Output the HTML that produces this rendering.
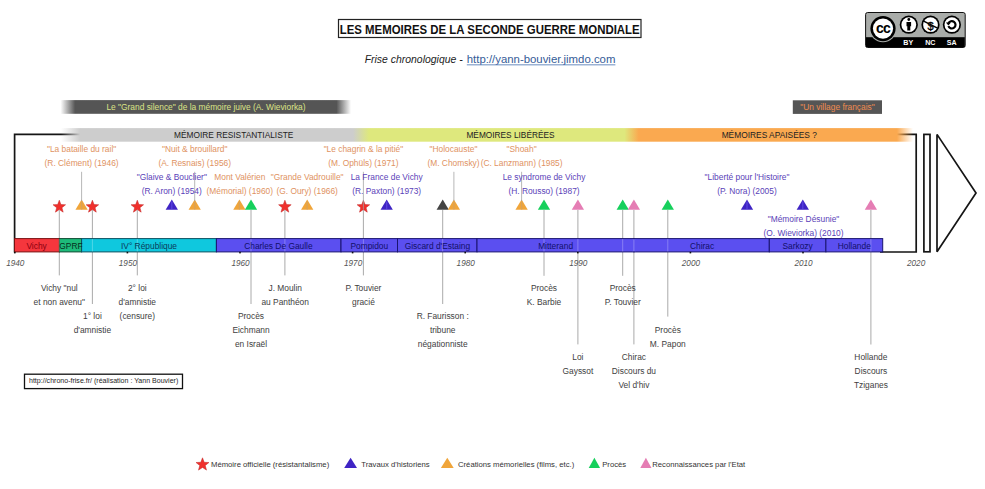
<!DOCTYPE html>
<html><head><meta charset="utf-8"><title>Les mémoires de la seconde guerre mondiale</title>
<style>html,body{margin:0;padding:0;background:#fff;width:985px;height:489px;overflow:hidden;position:relative}</style>
</head><body>
<svg width="985" height="489" viewBox="0 0 985 489" style="position:absolute;left:0;top:0;font-family:'Liberation Sans', sans-serif">

<defs>
 <linearGradient id="gs" x1="60.6" x2="351" y1="0" y2="0" gradientUnits="userSpaceOnUse">
  <stop offset="0" stop-color="#555" stop-opacity="0"/>
  <stop offset="0.05" stop-color="#555" stop-opacity="1"/>
  <stop offset="0.95" stop-color="#555" stop-opacity="1"/>
  <stop offset="1" stop-color="#555" stop-opacity="0"/>
 </linearGradient>
 <linearGradient id="gb" x1="61" x2="913" y1="0" y2="0" gradientUnits="userSpaceOnUse">
  <stop offset="0" stop-color="#cdcdcd" stop-opacity="0"/>
  <stop offset="0.0223" stop-color="#cdcdcd" stop-opacity="1"/>
  <stop offset="0.3427" stop-color="#cdcdcd" stop-opacity="1"/>
  <stop offset="0.3615" stop-color="#dee87d" stop-opacity="1"/>
  <stop offset="0.6614" stop-color="#dee87d" stop-opacity="1"/>
  <stop offset="0.6781" stop-color="#faa950" stop-opacity="1"/>
  <stop offset="0.9812" stop-color="#faa950" stop-opacity="1"/>
  <stop offset="1" stop-color="#faa950" stop-opacity="0"/>
 </linearGradient>
</defs>
<rect x="338.5" y="19.5" width="302.5" height="18" fill="#fff" stroke="#222" stroke-width="1.2"/>
<text x="489.7" y="33.6" fill="#111" font-size="12.2" font-weight="bold" text-anchor="middle" textLength="300" lengthAdjust="spacingAndGlyphs">LES MEMOIRES DE LA SECONDE GUERRE MONDIALE</text>
<text x="364.7" y="63.4" fill="#222" font-size="10.6" font-style="italic" textLength="98" lengthAdjust="spacingAndGlyphs">Frise chronologique -</text>
<text x="466.8" y="63.2" fill="#355c98" font-size="10.6" textLength="148.6" lengthAdjust="spacingAndGlyphs">http://yann-bouvier.jimdo.com</text>
<rect x="466.8" y="64.4" width="148.6" height="0.9" fill="#5a80b8"/>
<rect x="60.6" y="100.1" width="290.4" height="13.7" fill="url(#gs)"/>
<text x="206" y="110" fill="#dbe486" font-size="8.4" text-anchor="middle" >Le "Grand silence" de la mémoire juive (A. Wieviorka)</text>
<rect x="792.8" y="100.3" width="89.2" height="13.6" fill="#555"/>
<text x="837.5" y="110.2" fill="#f08c50" font-size="8.4" text-anchor="middle" >"Un village français"</text>
<path d="M14.6 252.6 V134.4 H916.2 V252 H880" fill="none" stroke="#151515" stroke-width="1.7"/>
<rect x="923.9" y="134.4" width="6.1" height="117.4" fill="none" stroke="#151515" stroke-width="1.7"/>
<path d="M937 134.4 L976 193 L937 251.7 Z" fill="none" stroke="#151515" stroke-width="1.7" stroke-miterlimit="2"/>
<rect x="61" y="128.1" width="852" height="13.6" fill="url(#gb)"/>
<text x="233.7" y="137.6" fill="#222" font-size="8.8" text-anchor="middle" textLength="119.4" lengthAdjust="spacingAndGlyphs">MÉMOIRE RESISTANTIALISTE</text>
<text x="510.5" y="137.6" fill="#222" font-size="8.8" text-anchor="middle" textLength="88.1" lengthAdjust="spacingAndGlyphs">MÉMOIRES LIBÉRÉES</text>
<text x="769.3" y="137.6" fill="#222" font-size="8.8" text-anchor="middle" textLength="95.3" lengthAdjust="spacingAndGlyphs">MÉMOIRES APAISÉES ?</text>
<polygon points="59.30,200.20 60.93,204.56 65.58,204.76 61.94,207.66 63.18,212.14 59.30,209.57 55.42,212.14 56.66,207.66 53.02,204.76 57.67,204.56" fill="#f0302c" stroke="#c02424" stroke-width="0.5"/>
<polygon points="81.6,199.5 87.75,209.7 75.45,209.7" fill="#f0a53a"/>
<line x1="81.6" y1="201.5" x2="81.6" y2="209.7" stroke="#c8a070" stroke-width="1.2" stroke-opacity="0.6"/>
<polygon points="92.40,200.20 94.03,204.56 98.68,204.76 95.04,207.66 96.28,212.14 92.40,209.57 88.52,212.14 89.76,207.66 86.12,204.76 90.77,204.56" fill="#f0302c" stroke="#c02424" stroke-width="0.5"/>
<polygon points="137.30,200.20 138.93,204.56 143.58,204.76 139.94,207.66 141.18,212.14 137.30,209.57 133.42,212.14 134.66,207.66 131.02,204.76 135.67,204.56" fill="#f0302c" stroke="#c02424" stroke-width="0.5"/>
<polygon points="171.8,199.5 177.95,209.7 165.65,209.7" fill="#3f24c4"/>
<line x1="171.8" y1="201.5" x2="171.8" y2="209.7" stroke="#6a58f0" stroke-width="1.2" stroke-opacity="0.6"/>
<polygon points="194.7,199.5 200.85,209.7 188.55,209.7" fill="#f0a53a"/>
<line x1="194.7" y1="201.5" x2="194.7" y2="209.7" stroke="#c8a070" stroke-width="1.2" stroke-opacity="0.6"/>
<polygon points="239.4,199.5 245.55,209.7 233.25,209.7" fill="#f0a53a"/>
<line x1="239.4" y1="201.5" x2="239.4" y2="209.7" stroke="#c8a070" stroke-width="1.2" stroke-opacity="0.6"/>
<polygon points="251,199.5 257.15,209.7 244.85,209.7" fill="#16d05c"/>
<polygon points="284.90,200.20 286.53,204.56 291.18,204.76 287.54,207.66 288.78,212.14 284.90,209.57 281.02,212.14 282.26,207.66 278.62,204.76 283.27,204.56" fill="#f0302c" stroke="#c02424" stroke-width="0.5"/>
<polygon points="307.2,199.5 313.35,209.7 301.05,209.7" fill="#f0a53a"/>
<line x1="307.2" y1="201.5" x2="307.2" y2="209.7" stroke="#c8a070" stroke-width="1.2" stroke-opacity="0.6"/>
<polygon points="363.40,200.20 365.03,204.56 369.68,204.76 366.04,207.66 367.28,212.14 363.40,209.57 359.52,212.14 360.76,207.66 357.12,204.76 361.77,204.56" fill="#f0302c" stroke="#c02424" stroke-width="0.5"/>
<polygon points="386.7,199.5 392.85,209.7 380.55,209.7" fill="#3f24c4"/>
<line x1="386.7" y1="201.5" x2="386.7" y2="209.7" stroke="#6a58f0" stroke-width="1.2" stroke-opacity="0.6"/>
<polygon points="442.7,199.5 448.85,209.7 436.55,209.7" fill="#444444"/>
<polygon points="453.9,199.5 460.05,209.7 447.75,209.7" fill="#f0a53a"/>
<line x1="453.9" y1="201.5" x2="453.9" y2="209.7" stroke="#c8a070" stroke-width="1.2" stroke-opacity="0.6"/>
<polygon points="521.6,199.5 527.75,209.7 515.45,209.7" fill="#f0a53a"/>
<line x1="521.6" y1="201.5" x2="521.6" y2="209.7" stroke="#c8a070" stroke-width="1.2" stroke-opacity="0.6"/>
<polygon points="544,199.5 550.15,209.7 537.85,209.7" fill="#16d05c"/>
<polygon points="577.9,199.5 584.05,209.7 571.75,209.7" fill="#e57db4"/>
<polygon points="622.7,199.5 628.85,209.7 616.55,209.7" fill="#16d05c"/>
<polygon points="633.9,199.5 640.05,209.7 627.75,209.7" fill="#e57db4"/>
<polygon points="667.8,199.5 673.95,209.7 661.65,209.7" fill="#16d05c"/>
<polygon points="747,199.5 753.15,209.7 740.85,209.7" fill="#3f24c4"/>
<line x1="747" y1="201.5" x2="747" y2="209.7" stroke="#6a58f0" stroke-width="1.2" stroke-opacity="0.6"/>
<polygon points="802.8,199.5 808.95,209.7 796.65,209.7" fill="#3f24c4"/>
<line x1="802.8" y1="201.5" x2="802.8" y2="209.7" stroke="#6a58f0" stroke-width="1.2" stroke-opacity="0.6"/>
<polygon points="870.9,199.5 877.05,209.7 864.75,209.7" fill="#e57db4"/>
<line x1="59.3" y1="210" x2="59.3" y2="275.4" stroke="#a0a0a0" stroke-width="0.9"/>
<line x1="92.4" y1="210" x2="92.4" y2="304" stroke="#a0a0a0" stroke-width="0.9"/>
<line x1="137.3" y1="210" x2="137.3" y2="275.4" stroke="#a0a0a0" stroke-width="0.9"/>
<line x1="251" y1="210" x2="251" y2="304" stroke="#a0a0a0" stroke-width="0.9"/>
<line x1="284.9" y1="210" x2="284.9" y2="275.4" stroke="#a0a0a0" stroke-width="0.9"/>
<line x1="363.4" y1="210" x2="363.4" y2="275.4" stroke="#a0a0a0" stroke-width="0.9"/>
<line x1="442.7" y1="210" x2="442.7" y2="304" stroke="#a0a0a0" stroke-width="0.9"/>
<line x1="544" y1="210" x2="544" y2="275.8" stroke="#a0a0a0" stroke-width="0.9"/>
<line x1="577.9" y1="210" x2="577.9" y2="344.4" stroke="#a0a0a0" stroke-width="0.9"/>
<line x1="622.7" y1="210" x2="622.7" y2="275.8" stroke="#a0a0a0" stroke-width="0.9"/>
<line x1="633.9" y1="210" x2="633.9" y2="344.4" stroke="#a0a0a0" stroke-width="0.9"/>
<line x1="667.8" y1="210" x2="667.8" y2="316.6" stroke="#a0a0a0" stroke-width="0.9"/>
<line x1="870.9" y1="210" x2="870.9" y2="344.5" stroke="#a0a0a0" stroke-width="0.9"/>
<line x1="81.6" y1="171.8" x2="81.6" y2="201" stroke="#a0a0a0" stroke-width="0.9" stroke-opacity="0.85"/>
<line x1="194.7" y1="171.8" x2="194.7" y2="201" stroke="#a0a0a0" stroke-width="0.9" stroke-opacity="0.85"/>
<line x1="363.4" y1="171.8" x2="363.4" y2="209.5" stroke="#a0a0a0" stroke-width="0.9" stroke-opacity="0.85"/>
<line x1="453.9" y1="171.8" x2="453.9" y2="201" stroke="#a0a0a0" stroke-width="0.9" stroke-opacity="0.85"/>
<line x1="521.6" y1="171.8" x2="521.6" y2="201" stroke="#a0a0a0" stroke-width="0.9" stroke-opacity="0.85"/>
<rect x="14.5" y="238.6" width="44.90" height="13.3" fill="#f5363d" stroke="#7a1010" stroke-width="1"/>
<rect x="59.4" y="238.6" width="22.20" height="13.3" fill="#1dbb7a" stroke="#0b4a30" stroke-width="1"/>
<rect x="81.6" y="238.6" width="134.80" height="13.3" fill="#0fc8de" stroke="#0a5060" stroke-width="1"/>
<rect x="216.4" y="238.6" width="124.60" height="13.3" fill="#5b4ff0" stroke="#1a1470" stroke-width="1"/>
<rect x="341" y="238.6" width="56.50" height="13.3" fill="#5b4ff0" stroke="#1a1470" stroke-width="1"/>
<rect x="397.5" y="238.6" width="79.50" height="13.3" fill="#5b4ff0" stroke="#1a1470" stroke-width="1"/>
<rect x="477" y="238.6" width="157.00" height="13.3" fill="#5b4ff0" stroke="#1a1470" stroke-width="1"/>
<rect x="634" y="238.6" width="135.30" height="13.3" fill="#5b4ff0" stroke="#1a1470" stroke-width="1"/>
<rect x="769.3" y="238.6" width="56.60" height="13.3" fill="#5b4ff0" stroke="#1a1470" stroke-width="1"/>
<rect x="825.9" y="238.6" width="56.80" height="13.3" fill="#5b4ff0" stroke="#1a1470" stroke-width="1"/>
<rect x="632" y="239.3" width="4" height="11.9" fill="#5b4ff0"/>
<line x1="59.3" y1="239" x2="59.3" y2="251.5" stroke="#ffffff" stroke-width="0.9" stroke-opacity="0.3"/>
<line x1="92.4" y1="239" x2="92.4" y2="251.5" stroke="#ffffff" stroke-width="0.9" stroke-opacity="0.3"/>
<line x1="137.3" y1="239" x2="137.3" y2="251.5" stroke="#ffffff" stroke-width="0.9" stroke-opacity="0.3"/>
<line x1="251" y1="239" x2="251" y2="251.5" stroke="#ffffff" stroke-width="0.9" stroke-opacity="0.3"/>
<line x1="284.9" y1="239" x2="284.9" y2="251.5" stroke="#ffffff" stroke-width="0.9" stroke-opacity="0.3"/>
<line x1="363.4" y1="239" x2="363.4" y2="251.5" stroke="#ffffff" stroke-width="0.9" stroke-opacity="0.3"/>
<line x1="442.7" y1="239" x2="442.7" y2="251.5" stroke="#ffffff" stroke-width="0.9" stroke-opacity="0.3"/>
<line x1="544" y1="239" x2="544" y2="251.5" stroke="#ffffff" stroke-width="0.9" stroke-opacity="0.3"/>
<line x1="577.9" y1="239" x2="577.9" y2="251.5" stroke="#ffffff" stroke-width="0.9" stroke-opacity="0.3"/>
<line x1="622.7" y1="239" x2="622.7" y2="251.5" stroke="#ffffff" stroke-width="0.9" stroke-opacity="0.3"/>
<line x1="633.9" y1="239" x2="633.9" y2="251.5" stroke="#ffffff" stroke-width="0.9" stroke-opacity="0.3"/>
<line x1="667.8" y1="239" x2="667.8" y2="251.5" stroke="#ffffff" stroke-width="0.9" stroke-opacity="0.3"/>
<line x1="870.9" y1="239" x2="870.9" y2="251.5" stroke="#ffffff" stroke-width="0.9" stroke-opacity="0.3"/>
<text x="36.6" y="248.8" fill="#8a0010" font-size="8.4" text-anchor="middle" >Vichy</text>
<text x="71" y="248.8" fill="#06301c" font-size="8.4" text-anchor="middle" >GPRF</text>
<text x="149" y="248.8" fill="#0a3c5a" font-size="8.4" text-anchor="middle" >IV° République</text>
<text x="278.4" y="248.8" fill="#12106a" font-size="8.4" text-anchor="middle" >Charles De Gaulle</text>
<text x="369.3" y="248.8" fill="#12106a" font-size="8.4" text-anchor="middle" >Pompidou</text>
<text x="437.4" y="248.8" fill="#12106a" font-size="8.4" text-anchor="middle" >Giscard d'Estaing</text>
<text x="555.6" y="248.8" fill="#12106a" font-size="8.4" text-anchor="middle" >Mitterand</text>
<text x="702.1" y="248.8" fill="#12106a" font-size="8.4" text-anchor="middle" >Chirac</text>
<text x="797.6" y="248.8" fill="#12106a" font-size="8.4" text-anchor="middle" >Sarkozy</text>
<text x="854.3" y="248.8" fill="#12106a" font-size="8.4" text-anchor="middle" >Hollande</text>
<rect x="14.00" y="251.8" width="1.6" height="1.6" fill="#111"/>
<text x="15.3" y="265.7" fill="#555" font-size="8.2" text-anchor="middle" font-style="italic">1940</text>
<rect x="126.60" y="251.8" width="1.6" height="1.6" fill="#111"/>
<text x="127.9" y="265.7" fill="#555" font-size="8.2" text-anchor="middle" font-style="italic">1950</text>
<rect x="239.20" y="251.8" width="1.6" height="1.6" fill="#111"/>
<text x="240.5" y="265.7" fill="#555" font-size="8.2" text-anchor="middle" font-style="italic">1960</text>
<rect x="351.80" y="251.8" width="1.6" height="1.6" fill="#111"/>
<text x="353.1" y="265.7" fill="#555" font-size="8.2" text-anchor="middle" font-style="italic">1970</text>
<rect x="464.40" y="251.8" width="1.6" height="1.6" fill="#111"/>
<text x="465.7" y="265.7" fill="#555" font-size="8.2" text-anchor="middle" font-style="italic">1980</text>
<rect x="577.00" y="251.8" width="1.6" height="1.6" fill="#111"/>
<text x="578.3" y="265.7" fill="#555" font-size="8.2" text-anchor="middle" font-style="italic">1990</text>
<rect x="689.60" y="251.8" width="1.6" height="1.6" fill="#111"/>
<text x="690.9" y="265.7" fill="#555" font-size="8.2" text-anchor="middle" font-style="italic">2000</text>
<rect x="802.20" y="251.8" width="1.6" height="1.6" fill="#111"/>
<text x="803.5" y="265.7" fill="#555" font-size="8.2" text-anchor="middle" font-style="italic">2010</text>
<text x="916.1" y="265.7" fill="#555" font-size="8.2" text-anchor="middle" font-style="italic">2020</text>
<text x="81.6" y="152.3" fill="#e09262" font-size="8.4" text-anchor="middle" >"La bataille du rail"</text>
<text x="81.6" y="166.4" fill="#e09262" font-size="8.4" text-anchor="middle" >(R. Clément) (1946)</text>
<text x="194.7" y="152.3" fill="#e09262" font-size="8.4" text-anchor="middle" >"Nuit &amp; brouillard"</text>
<text x="194.7" y="166.4" fill="#e09262" font-size="8.4" text-anchor="middle" >(A. Resnais) (1956)</text>
<text x="363.4" y="152.3" fill="#e09262" font-size="8.4" text-anchor="middle" >"Le chagrin &amp; la pitié"</text>
<text x="363.4" y="166.4" fill="#e09262" font-size="8.4" text-anchor="middle" >(M. Ophüls) (1971)</text>
<text x="453.5" y="152.3" fill="#e09262" font-size="8.4" text-anchor="middle" >"Holocauste"</text>
<text x="453.5" y="166.4" fill="#e09262" font-size="8.4" text-anchor="middle" >(M. Chomsky)</text>
<text x="521.6" y="152.3" fill="#e09262" font-size="8.4" text-anchor="middle" >"Shoah"</text>
<text x="521.6" y="166.4" fill="#e09262" font-size="8.4" text-anchor="middle" >(C. Lanzmann) (1985)</text>
<text x="171.8" y="179.8" fill="#5a3fb8" font-size="8.4" text-anchor="middle" >"Glaive &amp; Bouclier"</text>
<text x="171.8" y="193.8" fill="#5a3fb8" font-size="8.4" text-anchor="middle" >(R. Aron) (1954)</text>
<text x="239.8" y="179.8" fill="#e09262" font-size="8.4" text-anchor="middle" >Mont Valérien</text>
<text x="239.8" y="193.8" fill="#e09262" font-size="8.4" text-anchor="middle" >(Mémorial) (1960)</text>
<text x="307.2" y="179.8" fill="#e09262" font-size="8.4" text-anchor="middle" >"Grande Vadrouille"</text>
<text x="307.2" y="193.8" fill="#e09262" font-size="8.4" text-anchor="middle" >(G. Oury) (1966)</text>
<text x="386.7" y="179.8" fill="#5a3fb8" font-size="8.4" text-anchor="middle" >La France de Vichy</text>
<text x="386.7" y="193.8" fill="#5a3fb8" font-size="8.4" text-anchor="middle" >(R. Paxton) (1973)</text>
<text x="544" y="179.8" fill="#5a3fb8" font-size="8.4" text-anchor="middle" >Le syndrome de Vichy</text>
<text x="544" y="193.8" fill="#5a3fb8" font-size="8.4" text-anchor="middle" >(H. Rousso) (1987)</text>
<text x="747" y="179.8" fill="#5a3fb8" font-size="8.4" text-anchor="middle" >"Liberté pour l'Histoire"</text>
<text x="747" y="193.8" fill="#5a3fb8" font-size="8.4" text-anchor="middle" >(P. Nora) (2005)</text>
<text x="803.5" y="222.0" fill="#5a3fb8" font-size="8.4" text-anchor="middle" >"Mémoire Désunie"</text>
<text x="803.5" y="236.0" fill="#5a3fb8" font-size="8.4" text-anchor="middle" >(O. Wieviorka) (2010)</text>
<text x="59.3" y="291.3" fill="#3e3e3e" font-size="8.4" text-anchor="middle" >Vichy "nul</text>
<text x="59.3" y="305.1" fill="#3e3e3e" font-size="8.4" text-anchor="middle" >et non avenu"</text>
<text x="92.4" y="318.9" fill="#3e3e3e" font-size="8.4" text-anchor="middle" >1° loi</text>
<text x="92.4" y="332.7" fill="#3e3e3e" font-size="8.4" text-anchor="middle" >d'amnistie</text>
<text x="137.3" y="291.3" fill="#3e3e3e" font-size="8.4" text-anchor="middle" >2° loi</text>
<text x="137.3" y="305.1" fill="#3e3e3e" font-size="8.4" text-anchor="middle" >d'amnistie</text>
<text x="137.3" y="318.9" fill="#3e3e3e" font-size="8.4" text-anchor="middle" >(censure)</text>
<text x="251" y="318.9" fill="#3e3e3e" font-size="8.4" text-anchor="middle" >Procès</text>
<text x="251" y="332.7" fill="#3e3e3e" font-size="8.4" text-anchor="middle" >Eichmann</text>
<text x="251" y="346.5" fill="#3e3e3e" font-size="8.4" text-anchor="middle" >en Israël</text>
<text x="285.2" y="291.3" fill="#3e3e3e" font-size="8.4" text-anchor="middle" >J. Moulin</text>
<text x="285.2" y="305.1" fill="#3e3e3e" font-size="8.4" text-anchor="middle" >au Panthéon</text>
<text x="363.4" y="291.3" fill="#3e3e3e" font-size="8.4" text-anchor="middle" >P. Touvier</text>
<text x="363.4" y="305.1" fill="#3e3e3e" font-size="8.4" text-anchor="middle" >gracié</text>
<text x="442.7" y="318.9" fill="#3e3e3e" font-size="8.4" text-anchor="middle" >R. Faurisson :</text>
<text x="442.7" y="332.7" fill="#3e3e3e" font-size="8.4" text-anchor="middle" >tribune</text>
<text x="442.7" y="346.5" fill="#3e3e3e" font-size="8.4" text-anchor="middle" >négationniste</text>
<text x="544" y="291.3" fill="#3e3e3e" font-size="8.4" text-anchor="middle" >Procès</text>
<text x="544" y="305.1" fill="#3e3e3e" font-size="8.4" text-anchor="middle" >K. Barbie</text>
<text x="577.9" y="360.3" fill="#3e3e3e" font-size="8.4" text-anchor="middle" >Loi</text>
<text x="577.9" y="374.1" fill="#3e3e3e" font-size="8.4" text-anchor="middle" >Gayssot</text>
<text x="622.7" y="291.3" fill="#3e3e3e" font-size="8.4" text-anchor="middle" >Procès</text>
<text x="622.7" y="305.1" fill="#3e3e3e" font-size="8.4" text-anchor="middle" >P. Touvier</text>
<text x="633.9" y="360.3" fill="#3e3e3e" font-size="8.4" text-anchor="middle" >Chirac</text>
<text x="633.9" y="374.1" fill="#3e3e3e" font-size="8.4" text-anchor="middle" >Discours du</text>
<text x="633.9" y="387.9" fill="#3e3e3e" font-size="8.4" text-anchor="middle" >Vel d'hiv</text>
<text x="667.8" y="332.7" fill="#3e3e3e" font-size="8.4" text-anchor="middle" >Procès</text>
<text x="667.8" y="346.5" fill="#3e3e3e" font-size="8.4" text-anchor="middle" >M. Papon</text>
<text x="870.9" y="360.3" fill="#3e3e3e" font-size="8.4" text-anchor="middle" >Hollande</text>
<text x="870.9" y="374.1" fill="#3e3e3e" font-size="8.4" text-anchor="middle" >Discours</text>
<text x="870.9" y="387.9" fill="#3e3e3e" font-size="8.4" text-anchor="middle" >Tziganes</text>
<rect x="24.5" y="374.2" width="158" height="14.4" fill="#fff" stroke="#111" stroke-width="1.3"/>
<text x="29" y="383.1" fill="#1e1e1e" font-size="7.8" text-anchor="start" textLength="149.3" lengthAdjust="spacingAndGlyphs">http://chrono-frise.fr/ (réalisation : Yann Bouvier)</text>
<polygon points="202.50,457.80 204.18,462.29 208.97,462.50 205.22,465.48 206.50,470.10 202.50,467.46 198.50,470.10 199.78,465.48 196.03,462.50 200.82,462.29" fill="#f0302c" stroke="#c02424" stroke-width="0.5"/>
<text x="211" y="466.6" fill="#333" font-size="7.7" text-anchor="start" >Mémoire officielle (résistantalisme)</text>
<polygon points="350.6,457.7 357.00,467.9 344.20,467.9" fill="#3f24c4"/>
<text x="361.3" y="466.6" fill="#333" font-size="7.7" text-anchor="start" >Travaux d'historiens</text>
<polygon points="447.3,457.7 453.70,467.9 440.90,467.9" fill="#f0a53a"/>
<text x="458" y="466.6" fill="#333" font-size="7.7" text-anchor="start" >Créations mémorielles (films, etc.)</text>
<polygon points="594.4,457.7 600.10,467.9 588.70,467.9" fill="#16d05c"/>
<text x="602.2" y="466.6" fill="#333" font-size="7.7" text-anchor="start" >Procès</text>
<polygon points="645.9,457.7 651.50,467.9 640.30,467.9" fill="#e57db4"/>
<text x="652.3" y="466.6" fill="#333" font-size="7.7" text-anchor="start" >Reconnaissances par l'Etat</text>
<rect x="865.6" y="12.5" width="99.6" height="35" rx="2" fill="#a9aca9" stroke="#111" stroke-width="1"/>
<rect x="866" y="37.2" width="98.8" height="9.9" fill="#000"/>
<circle cx="883" cy="28.6" r="13.6" fill="#a9aca9"/>
<circle cx="883" cy="28.6" r="12.6" fill="#000"/>
<circle cx="883" cy="28.6" r="10.1" fill="#fff"/>
<text x="882.9" y="32.6" font-size="14" font-weight="bold" fill="#000" text-anchor="middle" letter-spacing="-0.9">cc</text>
<circle cx="908.8" cy="24.7" r="9.1" fill="#000"/>
<circle cx="908.8" cy="24.7" r="7.4" fill="#fff"/>
<circle cx="930.5" cy="24.7" r="9.1" fill="#000"/>
<circle cx="930.5" cy="24.7" r="7.4" fill="#fff"/>
<circle cx="951.9" cy="24.7" r="9.1" fill="#000"/>
<circle cx="951.9" cy="24.7" r="7.4" fill="#fff"/>
<circle cx="908.8" cy="19.5" r="1.4" fill="#000"/>
<path d="M906.5 22 H911.1 V26.2 H910.3 V30.6 H907.3 V26.2 H906.5 Z" fill="#000"/>
<text x="930.6" y="29.6" font-size="11" fill="#000" text-anchor="middle" stroke="#000" stroke-width="0.3">$</text>
<line x1="923.2" y1="20.9" x2="938" y2="28.3" stroke="#000" stroke-width="1.5"/>
<path d="M948.4 23.4 A3.7 3.7 0 1 1 948.4 26.2" fill="none" stroke="#000" stroke-width="2.2"/>
<polygon points="945.9,22.4 951,22.4 948.4,25.6" fill="#000"/>
<text x="908.3" y="45.4" font-size="7.1" font-weight="bold" fill="#fff" text-anchor="middle">BY</text>
<text x="930.3" y="45.4" font-size="7.1" font-weight="bold" fill="#fff" text-anchor="middle">NC</text>
<text x="951.6" y="45.4" font-size="7.1" font-weight="bold" fill="#fff" text-anchor="middle">SA</text>
</svg>
</body></html>
